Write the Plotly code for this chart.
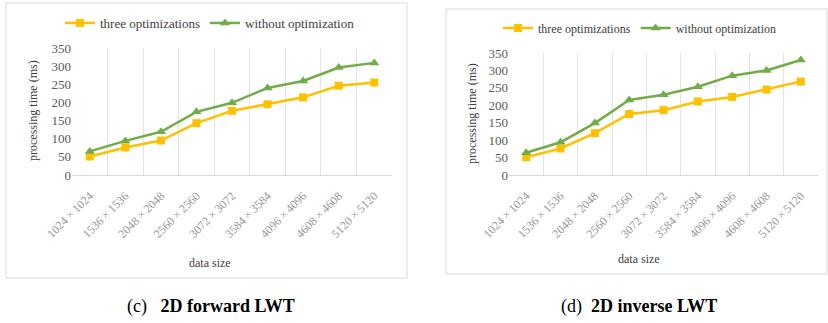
import plotly.graph_objects as go

categories = ["1024\u2009×\u20091024", "1536\u2009×\u20091536", "2048\u2009×\u20092048",
              "2560\u2009×\u20092560", "3072\u2009×\u20093072", "3584\u2009×\u20093584",
              "4096\u2009×\u20094096", "4608\u2009×\u20094608", "5120\u2009×\u20095120"]
fwd_three = [51, 76, 95, 143, 177, 195, 214, 246, 255]
fwd_without = [65, 94, 119, 174, 199, 240, 259, 296, 309]
inv_three = [51, 76, 120, 175, 186, 211, 224, 245, 268]
inv_without = [64, 94, 149, 215, 230, 253, 285, 300, 330]
yticks = [0, 50, 100, 150, 200, 250, 300, 350]

W, H = 828, 323
def px(x): return x / W
def py(y): return 1 - y / H

ORANGE = "#FFC000"
GREEN = "#70AD47"
SERIF = "Liberation Serif"
xs = list(range(len(categories)))

fig = go.Figure()
for (three, without, xa, ya, lg) in [(fwd_three, fwd_without, "x", "y", "legend"),
                                      (inv_three, inv_without, "x2", "y2", "legend2")]:
    fig.add_trace(go.Scatter(x=xs, y=three, name="three optimizations", mode="lines+markers",
                             line=dict(color=ORANGE, width=2.5),
                             marker=dict(symbol="square", size=8, color=ORANGE),
                             xaxis=xa, yaxis=ya, legend=lg))
    fig.add_trace(go.Scatter(x=xs, y=without, name="without optimization", mode="lines+markers",
                             line=dict(color=GREEN, width=2.5),
                             marker=dict(symbol="triangle-up", size=9, color=GREEN),
                             xaxis=xa, yaxis=ya, legend=lg))

def xaxis(domain, anchor):
    return dict(domain=domain, anchor=anchor, range=[-0.5, 8.5], tickmode="array",
                tickvals=xs, ticktext=categories, tickangle=-45, showgrid=False, automargin=False,
                showline=True, linecolor="#d9d9d9", linewidth=1, ticks="", zeroline=False,
                ticklabelstandoff=8,
                tickfont=dict(family=SERIF, size=12, color="#999999"),
                minor=dict(showgrid=True, tick0=0.5, dtick=1, gridcolor="#e3e3e3", gridwidth=1))

def yaxis(domain, anchor):
    return dict(domain=domain, anchor=anchor, range=[0, 350], tickmode="array", automargin=False,
                tickvals=yticks, showgrid=False, showline=False, zeroline=False, ticks="",
                tickfont=dict(family=SERIF, size=13, color="#595959"))

ann_font = dict(family=SERIF, size=12, color="#404040")
fig.update_layout(
    width=W, height=H, margin=dict(l=0, r=0, t=0, b=0),
    paper_bgcolor="white", plot_bgcolor="white", showlegend=True,
    font=dict(family=SERIF),
    xaxis=xaxis([px(72), px(392)], "y"),
    yaxis=yaxis([py(175), py(48)], "x"),
    xaxis2=xaxis([px(509), px(818)], "y2"),
    yaxis2=yaxis([py(175), py(53)], "x2"),
    legend=dict(orientation="h", x=px(60), y=py(23), xanchor="left", yanchor="middle",
                font=dict(family=SERIF, size=13, color="#404040"), bgcolor="rgba(0,0,0,0)"),
    legend2=dict(orientation="h", x=px(498), y=py(28), xanchor="left", yanchor="middle",
                 font=dict(family=SERIF, size=12, color="#404040"), bgcolor="rgba(0,0,0,0)"),
    shapes=[
        dict(type="rect", xref="paper", yref="paper", x0=px(6), x1=px(407), y0=py(278), y1=py(3),
             line=dict(color="#d9d9d9", width=1)),
        dict(type="rect", xref="paper", yref="paper", x0=px(446), x1=px(827), y0=py(274), y1=py(9),
             line=dict(color="#d9d9d9", width=1)),
    ],
    annotations=[
        dict(text="processing time (ms)", textangle=-90, x=px(33), y=py(111), xref="paper", yref="paper",
             xanchor="center", yanchor="middle", showarrow=False, font=ann_font),
        dict(text="processing time (ms)", textangle=-90, x=px(472), y=py(114), xref="paper", yref="paper",
             xanchor="center", yanchor="middle", showarrow=False, font=ann_font),
        dict(text="data size", x=px(210), y=py(263), xref="paper", yref="paper",
             xanchor="center", yanchor="middle", showarrow=False, font=ann_font),
        dict(text="data size", x=px(639), y=py(259), xref="paper", yref="paper",
             xanchor="center", yanchor="middle", showarrow=False, font=ann_font),
        dict(text="(c)&nbsp;&nbsp;&nbsp;<b>2D forward LWT</b>", x=px(211), y=py(306), xref="paper", yref="paper",
             xanchor="center", yanchor="middle", showarrow=False, font=dict(family=SERIF, size=18, color="black")),
        dict(text="(d)&nbsp;&nbsp;<b>2D inverse LWT</b>", x=px(639), y=py(306), xref="paper", yref="paper",
             xanchor="center", yanchor="middle", showarrow=False, font=dict(family=SERIF, size=18, color="black")),
    ],
)

fig.write_html("out.html")
